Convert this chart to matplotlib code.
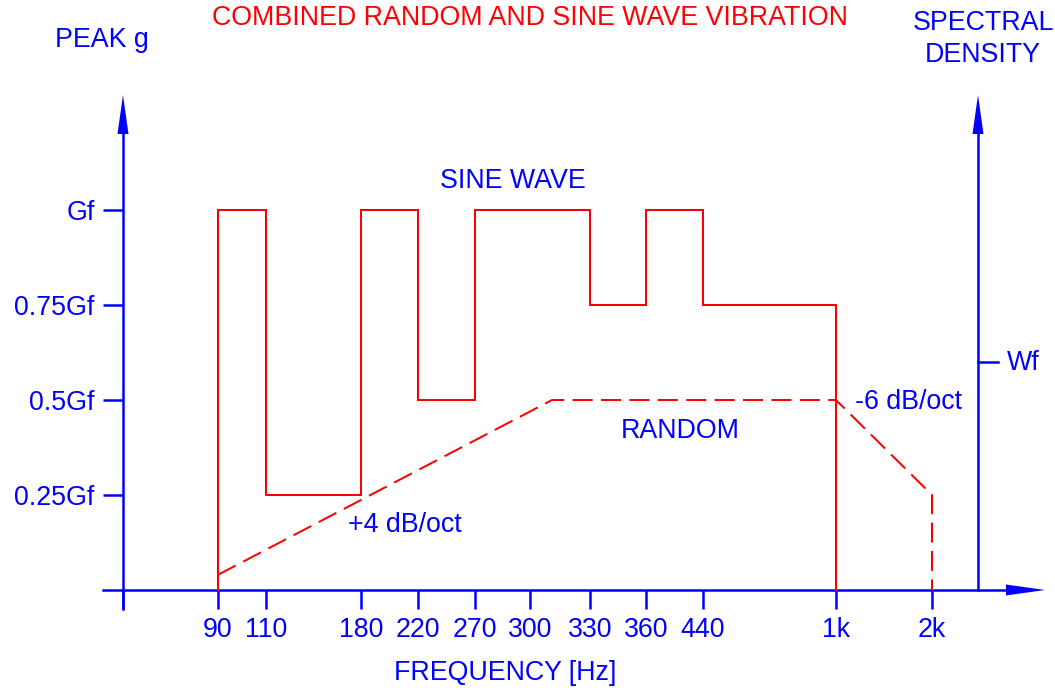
import numpy as np
import matplotlib
matplotlib.use('Agg')
import matplotlib.pyplot as plt
from matplotlib.transforms import Affine2D

plt.rcParams['font.family'] = ['Liberation Sans', 'DejaVu Sans']

# chart data (schematic, levels in units of Gf)
tick_freqs = [90, 110, 180, 220, 270, 300, 330, 360, 440, 1000, 2000]
tick_labels = ['90', '110', '180', '220', '270', '300', '330', '360', '440', '1k', '2k']
y_ticks = [0.25, 0.5, 0.75, 1.0]
y_labels = ['0.25Gf', '0.5Gf', '0.75Gf', 'Gf']

sine_edges = [90, 110, 180, 220, 270, 330, 360, 440, 1000]
sine_levels = [1.0, 0.25, 1.0, 0.5, 1.0, 0.75, 1.0, 0.75]

random_f = [90, 311, 1000, 2000, 2000]
random_g = [0.04, 0.5, 0.5, 0.25, 0.0]

wf_level = 0.6

RED = '#ff0000'
BLUE = '#0000ff'
W, H = 1055, 690

# the frequency axis is drawn out of scale: piecewise mapping freq -> pixel column
anchor_f = np.array([-1000, 0, 90, 110, 180, 220, 270, 300, 330, 360, 440, 1000, 2000, 3000, 20000], float)
anchor_p = np.array([-932.6, 123, 218, 266, 361, 418, 475, 530, 590, 646, 703, 836, 932, 1028, 2660], float)

def fwd(f):
    return np.interp(f, anchor_f, anchor_p)

def inv(p):
    return np.interp(p, anchor_p, anchor_f)

fig = plt.figure(figsize=(W / 100, H / 100), dpi=100)
ax = fig.add_axes([0, 0, 1, 1])
ax.set_xscale('function', functions=(fwd, inv))
ax.set_xlim(inv(0), inv(W))
# 0 at pixel row 590, 380 px per Gf
ax.set_ylim((590 - H) / 380, 590 / 380)
ax.patch.set_visible(False)

# pixel transform (x from left, y from top) for decorations
px = Affine2D().scale(1 / W, -1 / H).translate(0, 1) + fig.transFigure

for s in ['top', 'right']:
    ax.spines[s].set_visible(False)
ax.spines['left'].set_position(('data', 0))
ax.spines['left'].set_bounds(-19 / 380, (590 - 133) / 380)
ax.spines['bottom'].set_position(('data', 0))
ax.spines['bottom'].set_bounds(inv(103), inv(1008))
for s in ['left', 'bottom']:
    ax.spines[s].set_color(BLUE)
    ax.spines[s].set_linewidth(1.8)

fs = 19.3
ax.set_xticks([0] + tick_freqs)
ax.set_xticklabels([''] + tick_labels)
ax.xaxis.set_minor_locator(matplotlib.ticker.NullLocator())
ax.set_yticks(y_ticks)
ax.set_yticklabels(y_labels)
ax.tick_params(axis='x', direction='out', length=13.7, width=1.8, color=BLUE,
               labelcolor=BLUE, labelsize=fs, pad=6)
ax.tick_params(axis='y', direction='out', length=14.4, width=1.8, color=BLUE,
               labelcolor=BLUE, labelsize=fs, pad=6)

# sine wave steps
sx = np.repeat(sine_edges, 2)
sy = np.concatenate([[0], np.repeat(sine_levels, 2), [0]])
ax.plot(sx, sy, color=RED, lw=1.44, solid_joinstyle='miter', zorder=3)

# random
ax.plot(random_f, random_g, color=RED, lw=1.44, dashes=(10, 4.2), zorder=3)

# arrow heads and right axis
ax.fill([123, 117.5, 128.5], [95, 134, 134], color=BLUE, transform=px, lw=0)
ax.fill([978, 972.5, 983.5], [95, 134, 134], color=BLUE, transform=px, lw=0)
ax.fill([1045, 1006, 1006], [590, 584.5, 595.5], color=BLUE, transform=px, lw=0)
ax.plot([978, 978], [590, 130], color=BLUE, lw=1.8, transform=px)
ax.plot([978, 998], [590 - wf_level * 380] * 2, color=BLUE, lw=1.8, transform=px)

ax.text(1007, 590 - wf_level * 380 + 1, 'Wf', color=BLUE, fontsize=fs, ha='left', va='center', transform=px)
ax.text(530, 18, 'COMBINED RANDOM AND SINE WAVE VIBRATION', color=RED, fontsize=fs,
        ha='center', va='center', transform=px)
ax.text(102, 40, 'PEAK g', color=BLUE, fontsize=fs, ha='center', va='center', transform=px)
ax.text(983, 23, 'SPECTRAL', color=BLUE, fontsize=fs, ha='center', va='center', transform=px)
ax.text(983, 55, 'DENSITY', color=BLUE, fontsize=fs, ha='center', va='center', transform=px)
ax.text(513, 181, 'SINE WAVE', color=BLUE, fontsize=fs, ha='center', va='center', transform=px)
ax.text(680, 431, 'RANDOM', color=BLUE, fontsize=fs, ha='center', va='center', transform=px)
ax.text(855, 402, '-6 dB/oct', color=BLUE, fontsize=fs, ha='left', va='center', transform=px)
ax.text(348, 525, '+4 dB/oct', color=BLUE, fontsize=fs, ha='left', va='center', transform=px)
ax.text(505, 673, 'FREQUENCY [Hz]', color=BLUE, fontsize=fs, ha='center', va='center', transform=px)

fig.savefig('out.png', dpi=100)
